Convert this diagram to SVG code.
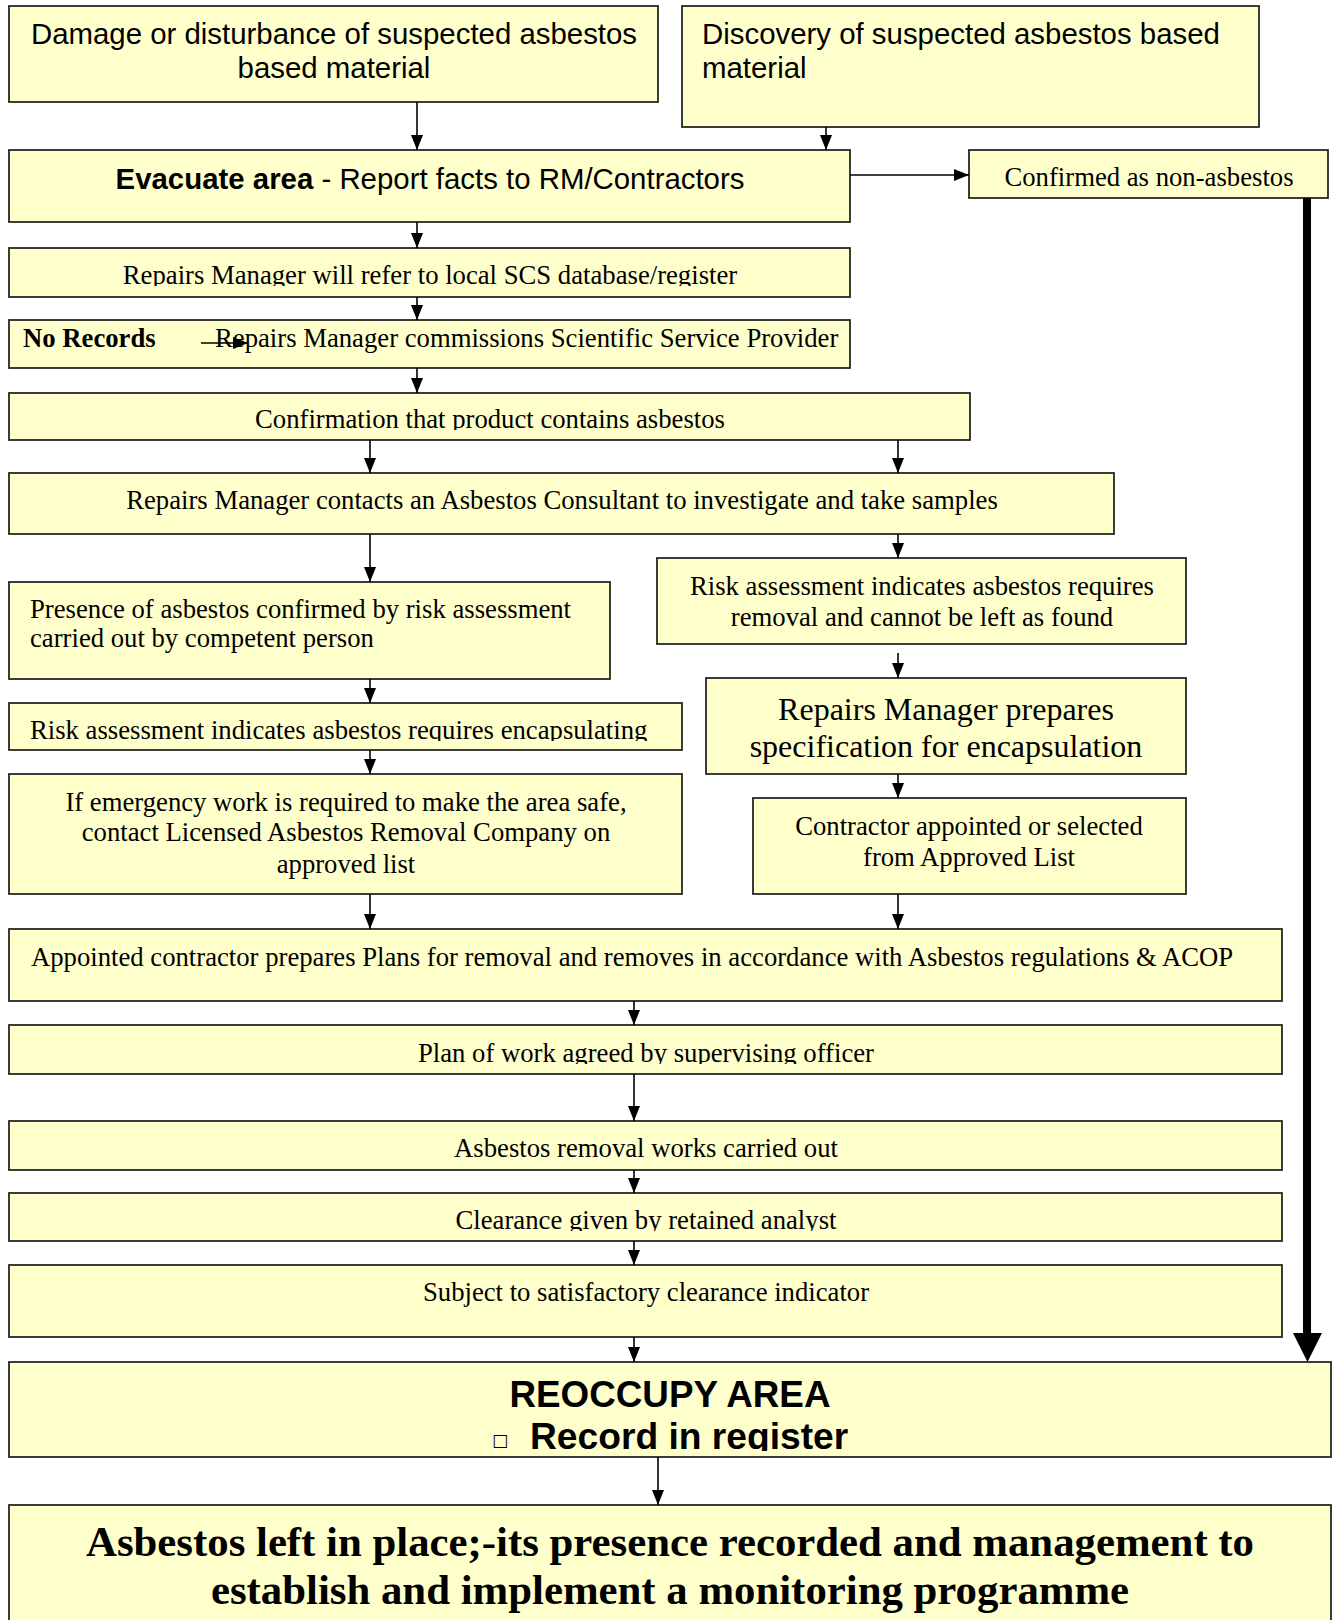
<svg xmlns="http://www.w3.org/2000/svg" width="1335" height="1620" viewBox="0 0 1335 1620">
<style>
.box{fill:#FFFFCC;stroke:#1a1a1a;stroke-width:1.7}
.sans{font-family:"Liberation Sans",Arial,sans-serif;font-size:29.4px;fill:#000}
.serif{font-family:"Liberation Serif","Times New Roman",serif;font-size:26.7px;fill:#000}
.c{text-anchor:middle}
.b{font-weight:bold}
#connectors line{stroke:#000;stroke-width:1.6;marker-end:url(#ah)}
</style>
<defs>
<marker id="ah" markerUnits="userSpaceOnUse" markerWidth="16" markerHeight="12" refX="15" refY="6" orient="auto">
<path d="M0,0 L15,6 L0,12 z" fill="#000"/>
</marker>
<clipPath id="clipE"><rect x="9" y="249" width="841" height="37"/></clipPath>
<clipPath id="clipG"><rect x="9" y="393" width="961" height="37"/></clipPath>
<clipPath id="clipM"><rect x="9" y="703" width="673" height="38"/></clipPath>
<clipPath id="clipP"><rect x="9" y="1025" width="1273" height="39"/></clipPath>
<clipPath id="clipR"><rect x="9" y="1193" width="1273" height="38"/></clipPath>
<clipPath id="clipT"><rect x="9" y="1362" width="1322" height="89"/></clipPath>
</defs>
<rect width="1335" height="1620" fill="#fff"/>

<g id="nA"><rect class="box" x="9" y="6" width="649" height="96"/>
<text class="sans c" x="334" y="44">Damage or disturbance of suspected asbestos</text>
<text class="sans c" x="334" y="78">based material</text></g>

<g id="nB"><rect class="box" x="682" y="6" width="577" height="121"/>
<text class="sans" x="702" y="44">Discovery of suspected asbestos based</text>
<text class="sans" x="702" y="78">material</text></g>

<g id="nC"><rect class="box" x="9" y="150" width="841" height="72"/>
<text class="sans c" x="430" y="189"><tspan class="b">Evacuate area</tspan> - Report facts to RM/Contractors</text></g>

<g id="nD"><rect class="box" x="969" y="150" width="359" height="48"/>
<text class="serif c" x="1149" y="186">Confirmed as non-asbestos</text></g>

<g id="nE"><rect class="box" x="9" y="248" width="841" height="49"/>
<text class="serif c" x="430" y="284" clip-path="url(#clipE)">Repairs Manager will refer to local SCS database/register</text></g>

<g id="nF"><rect class="box" x="9" y="320" width="841" height="48"/>
<text class="serif b" x="23" y="347">No Records</text>
<text class="serif" x="215" y="347">Repairs Manager commissions Scientific Service Provider</text></g>

<g id="nG"><rect class="box" x="9" y="393" width="961" height="47"/>
<text class="serif c" x="490" y="428" clip-path="url(#clipG)">Confirmation that product contains asbestos</text></g>

<g id="nH"><rect class="box" x="9" y="473" width="1105" height="61"/>
<text class="serif c" x="562" y="509">Repairs Manager contacts an Asbestos Consultant to investigate and take samples</text></g>

<g id="nI"><rect class="box" x="9" y="582" width="601" height="97"/>
<text class="serif" x="30" y="618">Presence of asbestos confirmed by risk assessment</text>
<text class="serif" x="30" y="647">carried out by competent person</text></g>

<g id="nJ"><rect class="box" x="657" y="558" width="529" height="86"/>
<text class="serif c" x="922" y="595">Risk assessment indicates asbestos requires</text>
<text class="serif c" x="922" y="626">removal and cannot be left as found</text></g>

<g id="nK"><rect class="box" x="706" y="678" width="480" height="96"/>
<text class="serif c" x="946" y="720" style="font-size:32px">Repairs Manager prepares</text>
<text class="serif c" x="946" y="757" style="font-size:32px">specification for encapsulation</text></g>

<g id="nL"><rect class="box" x="753" y="798" width="433" height="96"/>
<text class="serif c" x="969" y="835">Contractor appointed or selected</text>
<text class="serif c" x="969" y="866">from Approved List</text></g>

<g id="nM"><rect class="box" x="9" y="703" width="673" height="47"/>
<text class="serif" x="30" y="739" clip-path="url(#clipM)">Risk assessment indicates asbestos requires encapsulating</text></g>

<g id="nN"><rect class="box" x="9" y="774" width="673" height="120"/>
<text class="serif c" x="346" y="811">If emergency work is required to make the area safe,</text>
<text class="serif c" x="346" y="841">contact Licensed Asbestos Removal Company on</text>
<text class="serif c" x="346" y="873">approved list</text></g>

<g id="nO"><rect class="box" x="9" y="929" width="1273" height="72"/>
<text class="serif" x="31" y="966">Appointed contractor prepares Plans for removal and removes in accordance with Asbestos regulations &amp; ACOP</text></g>

<g id="nP"><rect class="box" x="9" y="1025" width="1273" height="49"/>
<text class="serif c" x="646" y="1062" clip-path="url(#clipP)">Plan of work agreed by supervising officer</text></g>

<g id="nQ"><rect class="box" x="9" y="1121" width="1273" height="49"/>
<text class="serif c" x="646" y="1157">Asbestos removal works carried out</text></g>

<g id="nR"><rect class="box" x="9" y="1193" width="1273" height="48"/>
<text class="serif c" x="646" y="1229" clip-path="url(#clipR)">Clearance given by retained analyst</text></g>

<g id="nS"><rect class="box" x="9" y="1265" width="1273" height="72"/>
<text class="serif c" x="646" y="1301">Subject to satisfactory clearance indicator</text></g>

<g id="nT"><rect class="box" x="9" y="1362" width="1322" height="95"/>
<text class="sans c b" x="670" y="1407" style="font-size:36.8px">REOCCUPY AREA</text>
<g clip-path="url(#clipT)">
<text x="492" y="1446" style="font-family:'DejaVu Sans',sans-serif;font-size:17px">□</text>
<text class="sans b" x="530" y="1449" style="font-size:37.2px">Record in register</text>
</g></g>

<g id="nU"><rect class="box" x="9" y="1505" width="1322" height="125"/>
<text class="serif c b" x="670" y="1556" style="font-size:42.8px">Asbestos left in place;-its presence recorded and management to</text>
<text class="serif c b" x="670" y="1604" style="font-size:42.8px">establish and implement a monitoring programme</text></g>

<g id="connectors">
<line x1="417" y1="102" x2="417" y2="150"/>
<line x1="826" y1="127" x2="826" y2="150"/>
<line x1="850" y1="175" x2="969" y2="175"/>
<line x1="417" y1="222" x2="417" y2="248"/>
<line x1="417" y1="297" x2="417" y2="320"/>
<line x1="417" y1="368" x2="417" y2="393"/>
<line x1="370" y1="440" x2="370" y2="473"/>
<line x1="898" y1="440" x2="898" y2="473"/>
<line x1="370" y1="534" x2="370" y2="582"/>
<line x1="898" y1="534" x2="898" y2="558"/>
<line x1="898" y1="653" x2="898" y2="678"/>
<line x1="898" y1="774" x2="898" y2="798"/>
<line x1="370" y1="679" x2="370" y2="703"/>
<line x1="370" y1="750" x2="370" y2="774"/>
<line x1="370" y1="894" x2="370" y2="929"/>
<line x1="898" y1="894" x2="898" y2="929"/>
<line x1="634" y1="1001" x2="634" y2="1025"/>
<line x1="634" y1="1074" x2="634" y2="1121"/>
<line x1="634" y1="1170" x2="634" y2="1193"/>
<line x1="634" y1="1241" x2="634" y2="1265"/>
<line x1="634" y1="1337" x2="634" y2="1362"/>
<line x1="658" y1="1457" x2="658" y2="1505"/>
<line x1="201" y1="343" x2="248" y2="343"/>
<path d="M1307,198 L1307,1335" stroke="#000" stroke-width="8" fill="none"/>
<path d="M1293,1333 L1322,1333 L1307.5,1362 z" fill="#000"/>
</g>
</svg>
